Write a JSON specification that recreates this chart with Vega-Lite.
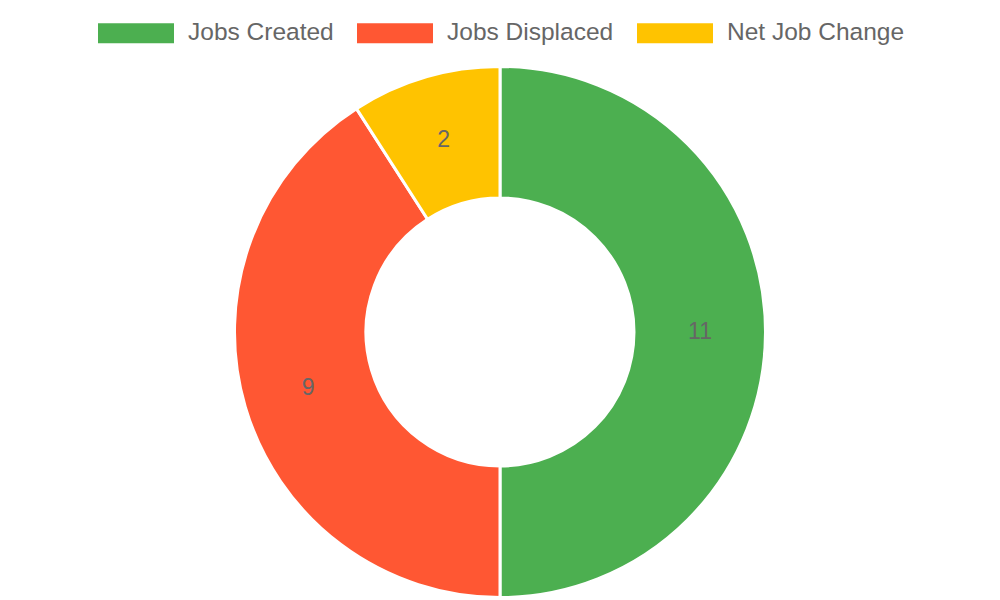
{
  "$schema": "https://vega.github.io/schema/vega-lite/v6.json",
  "width": 1000,
  "height": 536,
  "autosize": {"type": "none"},
  "padding": {"top": 64, "left": 0, "right": 0, "bottom": 0},
  "background": "white",
  "view": {"stroke": null},
  "data": {
    "values": [
      {"category": "Jobs Created", "value": 11, "idx": 1},
      {"category": "Jobs Displaced", "value": 9, "idx": 2},
      {"category": "Net Job Change", "value": 2, "idx": 3}
    ]
  },
  "encoding": {
    "theta": {"field": "value", "type": "quantitative", "stack": true},
    "order": {"field": "idx", "type": "quantitative"}
  },
  "layer": [
    {
      "mark": {"type": "arc", "outerRadius": 265.5, "innerRadius": 134, "stroke": "white", "strokeWidth": 3},
      "encoding": {
        "color": {
          "field": "category",
          "type": "nominal",
          "scale": {
            "domain": ["Jobs Created", "Jobs Displaced", "Net Job Change"],
            "range": ["#4CAF50", "#FF5733", "#FFC300"]
          },
          "legend": {
            "orient": "none",
            "legendX": 98,
            "legendY": -69,
            "direction": "horizontal",
            "title": null,
            "symbolType": "M-1,-0.263H1V0.263H-1Z",
            "symbolSize": 5776,
            "symbolStrokeWidth": 0,
            "symbolOpacity": 1,
            "labelFontSize": 24.5,
            "labelFont": "Liberation Sans",
            "labelColor": "#666666",
            "labelOffset": 14,
            "labelLimit": 400,
            "columnPadding": 23,
            "padding": 0
          }
        }
      }
    },
    {
      "mark": {"type": "text", "radius": 200, "fontSize": 23, "font": "Liberation Sans", "color": "#666666"},
      "encoding": {
        "text": {"field": "value", "type": "quantitative"},
        "detail": {"field": "category", "type": "nominal"}
      }
    }
  ]
}
